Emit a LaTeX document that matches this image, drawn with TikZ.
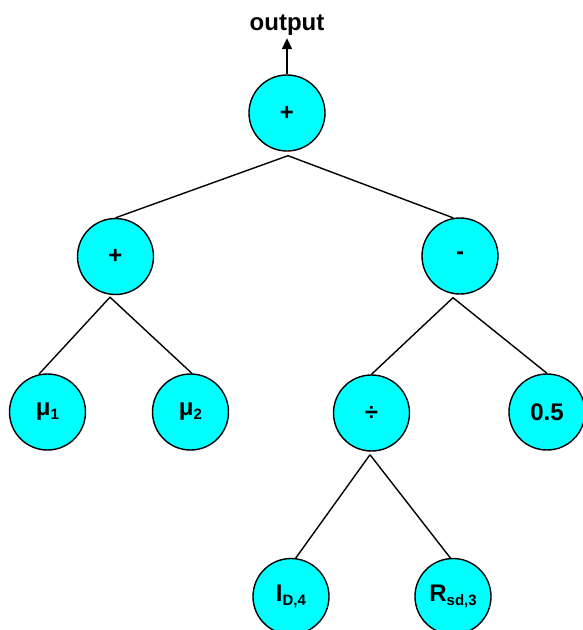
\documentclass[tikz,border=0pt]{standalone}
\usepackage{fontspec}
\setmainfont{Liberation Sans}
\usetikzlibrary{arrows.meta,calc}
\definecolor{nodecyan}{RGB}{0,255,255}
\newcommand{\mysub}[1]{\raisebox{-4pt}{\fontsize{15}{15}\selectfont #1}}
\begin{document}
\begin{tikzpicture}[x=1pt,y=1pt,
  tnode/.style={circle,draw=black,line width=1.4pt,fill=nodecyan,minimum size=76pt,inner sep=0pt,
    font=\fontsize{24}{24}\selectfont\bfseries},
  edge/.style={line width=1.4pt,draw=black},
  outarrow/.style={line width=1.8pt,-{Triangle[width=10pt,length=11pt]}}]
\useasboundingbox (0,0) rectangle (583,-630);
% nodes
\node[tnode] (root)  at (287,-113) {+};
\node[tnode] (plusL) at (115.5,-256.5) {+};
\node[tnode] (minus) at (460,-256) {-};
\node[tnode] (mu1)   at (47.5,-412) {μ\mysub{1}};
\node[tnode] (mu2)   at (190.5,-412) {μ\mysub{2}};
\node[tnode] (div)   at (371.5,-413) {÷};
\node[tnode] (half)  at (547,-412) {0.5};
\node[tnode] (id4)   at (291,-596.5) {I\mysub{D,4}};
\node[tnode] (rsd3)  at (453,-596.5) {R\mysub{sd,3}};
\node[inner sep=0pt,font=\fontsize{24}{24}\selectfont\bfseries,anchor=base] (output) at (287,-30.5) {output};
% junction points just below the parents
\coordinate (jroot)  at ($(root.south)+(1,-4)$);
\coordinate (jplus)  at ($(plusL.south)+(-5.5,-2)$);
\coordinate (jminus) at ($(minus.south)+(-7,-3)$);
\coordinate (jdiv)   at ($(div.south)+(-1.5,-3)$);
% connectors
\draw[edge] (jroot) -- (plusL.north);
\draw[edge] (jroot) -- (minus.100);
\draw[edge] (jplus) -- (mu1.103);
\draw[edge] (jplus) -- (mu2.88);
\draw[edge] (jminus) -- (div.north);
\draw[edge] (jminus) -- (half.north);
\draw[edge] (jdiv) -- (id4.83);
\draw[edge] (jdiv) -- (rsd3.94);
\draw[outarrow] (root.north) -- ([yshift=-2.5pt]output.south);
\end{tikzpicture}
\end{document}
